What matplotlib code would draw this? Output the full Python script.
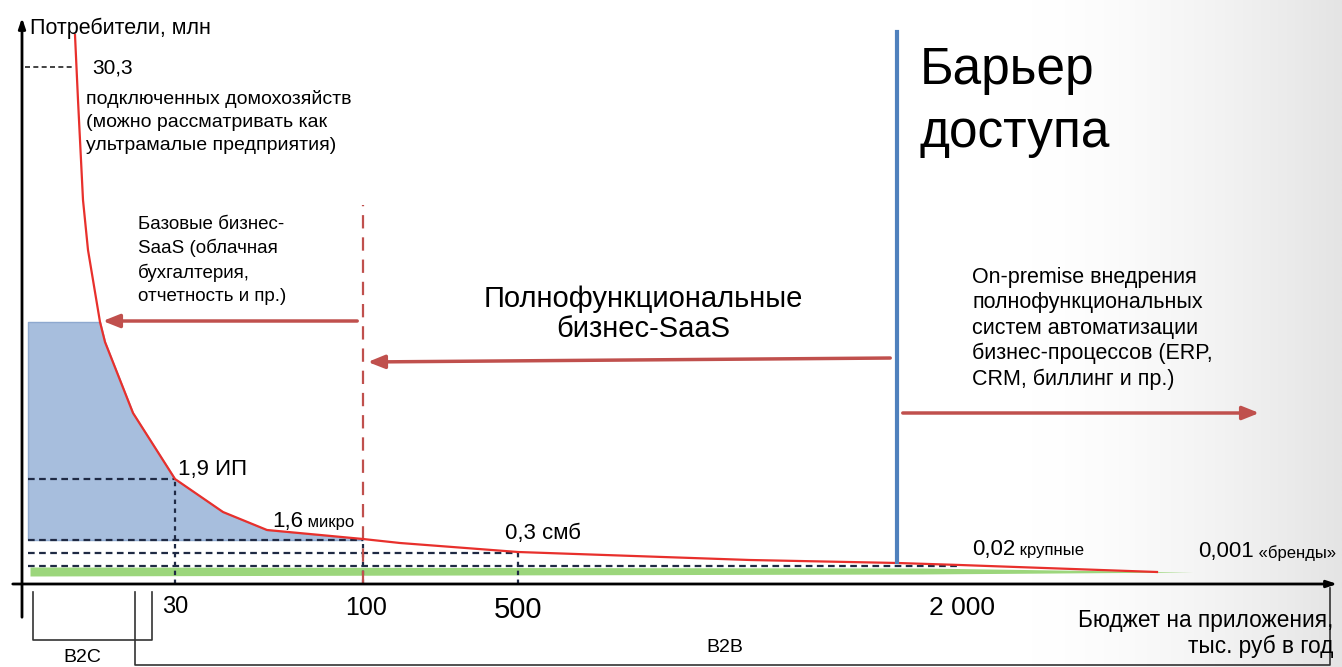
import numpy as np
import matplotlib
matplotlib.use("Agg")
import matplotlib.pyplot as plt
from matplotlib.colors import LinearSegmentedColormap

plt.rcParams['font.family'] = ['Liberation Sans', 'DejaVu Sans']

# -------------------------
# Data (schematic units: x along budget axis, y = consumers height)
# -------------------------
curve_x = [53, 56, 61, 66, 78, 83, 111, 153, 201, 245, 341, 378, 496, 728, 876, 938, 1135]
curve_y = [549, 484, 384, 334, 262, 242, 171, 105, 72, 54, 45, 41, 32, 24, 21, 19, 12]

# segment levels (x on curve, y level)
level_x = [53, 153, 341, 496, 938]
level_y = [517, 105, 44, 31, 18]

tick_pos = [153, 344, 496, 940]
tick_labels = ["30", "100", "500", "2 000"]
tick_sizes = [17, 18, 21, 19]

saas_top = 262
barrier_x = 875
green_x = [8, 900, 1171]
green_top = [17, 16, 12]
green_bot = [8, 10, 12]

RED = "#e8302c"
BRICK = "#c0504d"
BLUE = "#4f81bd"

# -------------------------
# Figure
# -------------------------
fig = plt.figure(figsize=(13.42, 6.67), dpi=100)
ax = fig.add_axes([0, 0, 1, 1])
ax.set_xlim(-22, 1320)
ax.set_ylim(-83, 584)
ax.axis("off")

# soft grey shading on the right edge
shade = LinearSegmentedColormap.from_list("shade", ["#ffffff", "#e4e4e4"])
g = np.linspace(0, 1, 300)[None, :] ** 1.6
ax.imshow(g, cmap=shade, aspect="auto", interpolation="bilinear",
          extent=(1000, 1320, -83, 584), zorder=0)

# blue area (basic SaaS)
bx = [6] + [x for x in curve_x if 78 <= x <= 341]
by = [saas_top] + [y for x, y in zip(curve_x, curve_y) if 78 <= x <= 341]
ax.fill_between(bx, level_y[2], by, color="#a7bedd", edgecolor="#8ea9cf", lw=1, zorder=1)

# green band
ax.fill_between(green_x, green_bot, green_top, color="#9cd67c", lw=0, zorder=1)

# dashed guide lines
ax.plot([3, level_x[0]], [level_y[0]] * 2, ls="--", color="#222", lw=1.2, dashes=(3, 2))
for lx, ly in zip(level_x[1:], level_y[1:]):
    ax.plot([6, lx], [ly, ly], ls="--", color="#1f2a44", lw=1.6, dashes=(3, 2), zorder=2)
for lx, ly in zip(level_x[1:4], level_y[1:4]):
    ax.plot([lx, lx], [0, ly], ls="--", color="#1f2a44", lw=1.6, dashes=(2, 2), zorder=2)

# red dashed border of basic SaaS
ax.plot([341, 341], [0, 379], ls="--", color=BRICK, lw=1.6, dashes=(6, 4), zorder=2)

# the curve
ax.plot(curve_x, curve_y, color=RED, lw=1.6, zorder=3)

# barrier line
ax.plot([barrier_x, barrier_x], [22, 552], color=BLUE, lw=3, zorder=3)

# arrows
arr = dict(arrowstyle="-|>,head_length=1.0,head_width=0.4", color=BRICK, lw=2.5)
ax.annotate("", xy=(78, 263), xytext=(338, 263), arrowprops=arr)
ax.annotate("", xy=(343, 222), xytext=(871, 226), arrowprops=arr)
ax.annotate("", xy=(1240, 171), xytext=(878, 171), arrowprops=arr)

# axes
axa = dict(arrowstyle="-|>,head_length=0.6,head_width=0.2", color="black", lw=2)
ax.annotate("", xy=(0, 569), xytext=(0, -36), arrowprops=axa)
ax.annotate("", xy=(1318, 0), xytext=(-12, 0), arrowprops=axa)

# brackets
ax.plot([11, 11, 130, 130], [-8, -56, -56, -8], color="#333", lw=1.2)
ax.plot([113, 113, 1308, 1308], [-8, -81, -81, -4], color="#333", lw=1.2)

# texts
ax.text(8, 556, "Потребители, млн", fontsize=15.5, va="center", ha="left")
ax.text(70, 516, "30,3", fontsize=15, va="center", ha="left")
ax.text(64, 494, "подключенных домохозяйств\n(можно рассматривать как\nультрамалые предприятия)",
        fontsize=14, va="top", ha="left", linespacing=1.47)
ax.text(116, 368, "Базовые бизнес-\nSaaS (облачная\nбухгалтерия,\nотчетность и пр.)",
        fontsize=13.5, va="top", ha="left", linespacing=1.43)
ax.text(621, 270, "Полнофункциональные\nбизнес-SaaS", fontsize=21, va="center", ha="center",
        multialignment="center", linespacing=1.13)
ax.text(898, 538, "Барьер\nдоступа", fontsize=37, va="top", ha="left", linespacing=1.37)
ax.text(950, 317, "On-premise внедрения\nполнофункциональных\nсистем автоматизации\nбизнес-процессов (ERP,\nCRM, биллинг и пр.)",
        fontsize=15.5, va="top", ha="left", linespacing=1.27)

ax.text(156, 114, "1,9 ИП", fontsize=16, va="center", ha="left")
t = ax.text(250, 63, "1,6", fontsize=16, va="center", ha="left")
ax.annotate(" микро", xy=(1, 0.45), xycoords=t, fontsize=12, va="center", ha="left")
ax.text(483, 50, "0,3 смб", fontsize=16, va="center", ha="left")
t = ax.text(950, 35, "0,02", fontsize=16, va="center", ha="left")
ax.annotate(" крупные", xy=(1, 0.45), xycoords=t, fontsize=12, va="center", ha="left")
t = ax.text(1176, 32, "0,001", fontsize=16, va="center", ha="left")
ax.annotate(" «бренды»", xy=(1, 0.45), xycoords=t, fontsize=12, va="center", ha="left")

for p, lab, s in zip(tick_pos, tick_labels, tick_sizes):
    ax.text(p, -12, lab, fontsize=s, va="top", ha="center")

ax.text(1311, -25, "Бюджет на приложения,\nтыс. руб в год", fontsize=16.3, va="top", ha="right",
        multialignment="right", linespacing=1.13)
ax.text(60, -74, "B2C", fontsize=14, va="center", ha="center")
ax.text(703, -64, "B2B", fontsize=14, va="center", ha="center")

fig.savefig("out.png", dpi=100)
